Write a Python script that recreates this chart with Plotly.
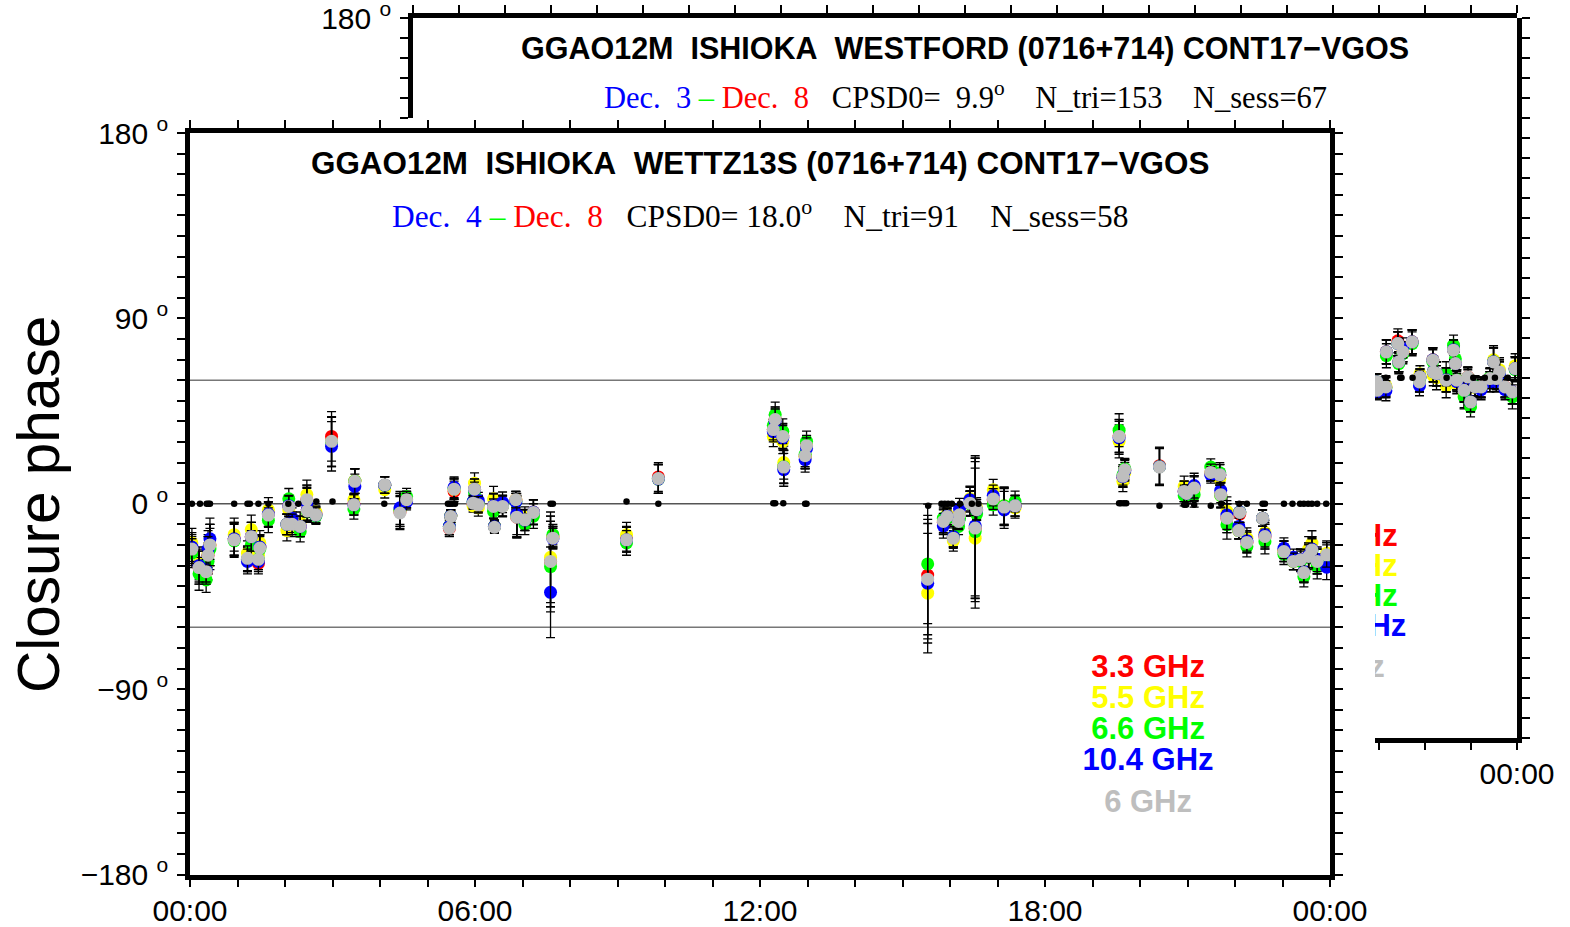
import plotly.graph_objects as go

W, H = 1570, 927

# ---------------- front panel (GGAO12M ISHIOKA WETTZ13S) ----------------
front_hours = [0.04, 0.19, 0.34, 0.38, 0.42, 0.93, 1.21, 1.29, 1.44, 1.47, 1.65, 2.04, 2.08, 2.15, 2.32,
               2.46, 2.47, 2.65, 2.98, 3.47, 3.45, 4.10, 4.42, 4.56, 5.46, 5.49, 5.56, 5.99, 5.96, 6.07,
               6.39, 6.41, 6.58, 6.86, 6.88, 7.05, 7.23, 7.64, 7.59, 9.19, 9.86, 12.32, 12.28, 12.48,
               12.50, 12.98, 12.95, 15.53, 15.86, 15.94, 16.07, 16.20, 16.18, 16.42, 16.56, 16.53,
               16.91, 17.14, 17.37, 19.56, 19.68, 19.64, 20.41, 20.93, 20.98, 21.14, 21.49, 21.68,
               21.70, 21.83, 22.10, 22.08, 22.25, 22.58, 22.63, 23.03, 23.23, 23.38, 23.45, 23.55,
               23.62, 23.73, 23.93]
front_gray = [-22, -31, -33, -25, -20, -17.5, -26.5, -16, -27, -21.5, -5.5, -10, -1.3, -10, -11,
              2, -3.5, -5.5, 30.3, 10.9, -0.5, 9.2, -4.5, 2, -11.8, -6.2, 7.1, 7.1, 0.3, -0.5,
              -1.3, -11.4, -1.3, 2, -6.5, -7.8, -4.2, -16.7, -28, -17.5, 12.2, 40.9, 36, 32.7,
              17.8, 28.2, 23.3, -36.6, -8.6, -6.2, -16.7, -5.4, -8.6, 0.3, -2.9, -11.8,
              2.3, -1.6, -1, 32.7, 16.5, 13.3, 17.8, 6, 5, 7.6, 15.2, 14.1,
              4.4, -7, -4.2, -13, -18.8, -7, -15.9, -23.2, -28, -27.2, -33.4, -25.6,
              -22.4, -28, -24.8]
front_red = [-23, -31, -33, -25, -20, -17, -27, -16, -29, -21, -5, -10, -1, -10, -11,
             2, -3, -5, 32.7, 11, 0, 9, -4, 2, -12, -6, 6, 7, 0, 0,
             -1, -11, -1, 2, -6.5, -8, -4, -16, -28, -17, 13, 41, 36, 33,
             18, 28, 23, -34.6, -9, -6, -16, -5, -8, 0, -3, -12,
             2, -1.5, -1, 33, 16.5, 13, 18.5, 6, 5, 7.6, 15, 14,
             4.4, -7, -5, -13, -18.8, -7, -16, -23, -28, -27, -33, -25,
             -22, -28, -25]
front_yellow = [-19, -29, -31, -24, -20, -15, -24, -12.5, -25, -19, -3, -13, -3, -11, -9,
                4.5, -4, -4, 30, 11, 2, 6.8, -3, 2, -11, -6, 7, 10, -1, -2,
                2.4, -11, -1, 2, -6, -6.5, -4, -16, -26, -15, 12, 40, 32.7, 30.3,
                20, 28, 23, -43.4, -8, -5, -18, -5, -8, 2.5, -2, -16.7,
                6.8, -1, -2, 30.3, 15, 10.9, 18, 8.4, 5, 7, 15, 12,
                4, -3.7, -4, -13, -16.7, -7, -14, -23, -28, -27, -33, -22,
                -19.1, -28, -24]
front_green = [-24, -34, -37, -28, -22, -18, -27, -20, -27, -22, -8, -10, 2.4, -9, -13.5,
               1, -4, -6, 30, 11, -2.5, 9, -3, 3.5, -11, -6, 7.5, 5.5, 1, 0,
               -3.7, -11, -1, 1, -6, -10, -6, -15, -30.5, -19, 12, 43.3, 38, 35.2,
               18, 30.3, 24, -29.2, -7, -7, -16, -7, -11, 0, -5, -13.5,
               -0.5, -1, 1.1, 35.7, 17, 14, 18, 4, 4, 4.4, 17.8, 15,
               4, -10.2, -4, -13, -20.8, -7, -18.3, -24.5, -28, -28, -35.4, -26,
               -23, -30.5, -26]
front_blue = [-21, -30, -32, -22, -17, -17, -28, -16, -28, -21, -5, -10, -1, -7, -11,
              0.5, -3, -5.5, 27.9, 8.4, -0.5, 9, -2, 1, -11, -6, 8, 7, 1, 1.5,
              -1, -11, 0.7, 1, -5, -8, -4, -17, -43, -17.5, 12, 40, 35, 32,
              16.5, 27, 21.4, -38.6, -10.7, -6, -16, -2.4, -8, 2, -3, -10.7,
              4, -3, -1, 32, 16, 13, 18, 6, 5, 8.8, 14, 14,
              6.5, -5.5, -4, -11, -18, -7, -15, -21.6, -26, -27, -33, -25,
              -22, -27, -30.8]
front_err = [7, 8, 6, 9, 10, 8, 6, 7, 5, 6, 6, 5, 5, 5, 5,
             7, 5, 4, 12, 6, 5, 4, 8, 4, 4, 3, 5, 5, 3, 4,
             6, 3, 5, 4, 10, 5, 6, 5, 22, 6, 7, 6, 5, 6,
             8, 5, 6, 29, 6, 4, 5, 5, 4, 6, 5, 34,
             5, 9, 5, 8, 5, 5, 9, 5, 4, 6, 4, 5,
             6, 7, 5, 4, 5, 4, 6, 5, 4, 5, 5, 6,
             6, 6, 6]
front_dot_hours = [0.04, 0.21, 0.35, 0.39, 0.42, 0.93, 1.21, 1.26, 1.44, 1.65, 2.07, 2.28, 2.66, 3.00,
                   4.09, 5.43, 5.47, 5.52, 5.58, 7.59, 7.64, 9.19, 9.86, 12.28, 12.32, 12.49, 12.95,
                   12.98, 15.54, 15.82, 15.89, 15.96, 16.04, 16.21, 16.46, 16.60, 19.56, 19.60,
                   19.66, 19.71, 20.41, 20.93, 20.97, 21.14, 21.49, 21.71, 22.09, 22.25, 22.58,
                   22.63, 23.03, 23.21, 23.37, 23.45, 23.54, 23.62, 23.73, 23.92]
front_dot_vals = [0, 0, 0, 0, 0, 0, 0, 0, 0, 0, 0, 0, 1.1, 1.1,
                  0, 0, 0, 0, 0, 0, 0, 1.1, 0, 0.3, 0.3, 0.3, 0,
                  0, -1, 0, 0, 0, 0, 0, 0, 0, 0.3, 0.3,
                  0.3, 0.3, -1, -0.5, -0.5, -0.5, -1, 0, 0, 0, 0,
                  0, 0, 0, 0, 0, 0, 0, 0, 0]

# ---------------- back panel (GGAO12M ISHIOKA WESTFORD), visible part ----------------
back_hours = [20.95, 20.96, 21.15, 21.16, 21.41, 21.43, 21.52, 21.72, 21.88, 21.89, 22.17, 22.18,
              22.25, 22.46, 22.62, 22.66, 22.69, 22.85, 22.93, 22.99, 23.09, 23.22, 23.41, 23.49,
              23.55, 23.62, 23.74, 23.90, 23.96]
back_gray = [-2, -6.3, -4.6, 12.9, 17.1, 7.9, 12.9, 17.9, -2.1, 0.4, 8.8, 2.9,
             2.1, -1.2, 13.8, 7.1, -1.2, -6.3, 0.4, -12.1, -4.6, -4.6, -0.4, 7.9,
             -0.4, 2.9, -4.6, -7.1, 4.6]
back_red = [-2, -6, -4.6, 13, 18.5, 8, 13, 18, -2, 0.4, 9, 3,
            2, -1, 14, 7, -1, -6, 0.4, -12, -4.6, -4.6, -0.4, 8,
            -0.4, 3, -4.6, -7, 4.6]
back_yellow = [-2, -6, -4, 13, 17, 8, 13, 18, -2, 2, 9, 1,
               0, -4, 14, 7, -3, -9, 0, -12, -5, -5, -2, 9,
               -2, 4, -5, -7, 6]
back_green = [-2, -6.5, -5, 11, 17, 7, 12, 17, -2, 0, 8, 3,
              2, 2, 16.3, 9.5, -1, -9.6, 0, -14.6, -4, -5, 0, 8,
              -1, 2, -5, -9.6, 4]
back_blue = [-2, -7, -6.5, 13, 17, 8, 15, 18, -4, 0.4, 9, 3,
             2, -1, 14, 7, -2, -6, -1, -12, -4.6, -6, -2, 8,
             -2, 2, -6, -7, 4.6]
back_err = [4, 4, 5, 6, 6, 5, 5, 6, 5, 4, 6, 5,
            6, 6, 5, 6, 5, 6, 5, 5, 5, 5, 5, 7,
            5, 6, 5, 6, 6]
back_dot_hours = [21.15, 21.46, 21.49, 21.73, 22.47, 23.05, 23.30, 23.52, 23.80]
back_dot_vals = [0, 0, 0, 0, 0, 0, 0, 0, 0]

# ---------------- legend / labels ----------------
legend_labels = ["3.3 GHz", "5.5 GHz", "6.6 GHz", "10.4 GHz", "6 GHz"]
legend_colors = ["#ff0000", "#ffff00", "#00ff00", "#0000ff", "#bebebe"]
legend_deg = [-80.3, -95.3, -110.3, -125.5, -146.0]
legend_hour = 20.17
ref_lines = [-60, 0, 60]

series_names = ["3.3 GHz", "5.5 GHz", "6.6 GHz", "10.4 GHz", "6 GHz"]
series_colors = ["#ff0000", "#ffff00", "#00ff00", "#0000ff", "#bebebe"]

x_ticks = list(range(0, 25))
x_ticktext = [("%02d:00" % (h % 24)) if h % 6 == 0 else "" for h in x_ticks]
y_ticks = list(range(-180, 181, 10))
y_major = {180: "180 <sup>o</sup>", 90: "90 <sup>o</sup>", 0: "0 <sup>o</sup>",
           -90: "\u221290 <sup>o</sup>", -180: "\u2212180 <sup>o</sup>"}
y_ticktext = [y_major.get(v, "") for v in y_ticks]

FONT = "Liberation Sans, Arial, Helvetica, sans-serif"
SERIF = "Liberation Serif, Times New Roman, serif"

fig = go.Figure()


def add_panel(xa, ya, hours, cols, err, dot_h, dot_v):
    for vals, c, nm in zip(cols, series_colors, series_names):
        fig.add_trace(go.Scatter(
            x=hours, y=vals, mode="markers", name=nm, xaxis=xa, yaxis=ya,
            marker=dict(color=c, size=13, line=dict(width=0)),
            error_y=dict(type="data", array=err, color="black", thickness=1.3, width=4.5),
            cliponaxis=True, showlegend=False, hoverinfo="skip"))
    fig.add_trace(go.Scatter(
        x=dot_h, y=dot_v, mode="markers", xaxis=xa, yaxis=ya,
        marker=dict(color="black", size=6.5), cliponaxis=True, showlegend=False, hoverinfo="skip"))
    fig.add_trace(go.Scatter(
        x=[legend_hour] * len(legend_labels), y=legend_deg, mode="text", xaxis=xa, yaxis=ya,
        text=["<b>%s</b>" % t for t in legend_labels],
        textfont=dict(family=FONT, size=31, color=legend_colors),
        textposition="middle center", cliponaxis=True, showlegend=False, hoverinfo="skip"))


add_panel("x", "y", front_hours,
          [front_red, front_yellow, front_green, front_blue, front_gray], front_err,
          front_dot_hours, front_dot_vals)
add_panel("x3", "y3", back_hours,
          [back_red, back_yellow, back_green, back_blue, back_gray], back_err,
          back_dot_hours, back_dot_vals)
# dummy trace so the top strip subplot exists
fig.add_trace(go.Scatter(x=[], y=[], xaxis="x2", yaxis="y2", showlegend=False))

for v in ref_lines:
    for xr, yr in (("x domain", "y"), ("x3 domain", "y3")):
        fig.add_shape(type="line", xref=xr, yref=yr, x0=0, x1=1, y0=v, y1=v,
                      line=dict(color="#555555" if v == 0 else "#777777", width=1.5), layer="below")


def px2x(p):
    return p / W


def px2y(p):
    return 1 - p / H


common_axis = dict(showgrid=False, zeroline=False, showline=True, linecolor="black", linewidth=4.5,
                   ticks="outside", ticklen=8, tickwidth=1.5, tickcolor="black", automargin=False,
                   ticklabeloverflow="allow",
                   tickfont=dict(family=FONT, size=30, color="black"), fixedrange=True)

fig.update_layout(
    width=W, height=H, margin=dict(l=0, r=0, t=0, b=0, pad=0, autoexpand=False),
    paper_bgcolor="white", plot_bgcolor="white", showlegend=False,
    xaxis=dict(domain=[px2x(190), px2x(1330)], range=[0, 24], anchor="y",
               tickvals=x_ticks, ticktext=x_ticktext, mirror="ticks", ticklabelstandoff=-2, **common_axis),
    yaxis=dict(domain=[px2y(874.5), px2y(133)], range=[-180, 180], anchor="x",
               tickvals=y_ticks, ticktext=y_ticktext, mirror="ticks", ticklabelstandoff=3, **common_axis),
    xaxis2=dict(domain=[px2x(413), px2x(1517)], range=[0, 24], anchor="y2", side="top",
                tickvals=x_ticks, showticklabels=False, **common_axis),
    yaxis2=dict(domain=[px2y(117.9), px2y(18)], range=[130, 180], anchor="x2", side="left",
                tickvals=list(range(130, 181, 10)),
                ticktext=["" if v != 180 else "180 <sup>o</sup>" for v in range(130, 181, 10)],
                ticklabelstandoff=3, **common_axis),
    xaxis3=dict(domain=[px2x(1375), px2x(1517)], range=[20.913, 24], anchor="y3",
                tickvals=[21, 22, 23, 24], ticktext=["", "", "", "00:00"], ticklabelstandoff=-2,
                **common_axis),
    yaxis3=dict(domain=[px2y(737.5), px2y(18)], range=[-180, 180], anchor="x3", side="right",
                tickvals=y_ticks, showticklabels=False, **common_axis),
)

ann = []
ann.append(dict(text="<b>GGAO12M\u00a0 ISHIOKA\u00a0 WESTFORD (0716+714) CONT17\u2212VGOS</b>",
                x=px2x(965), y=px2y(48), xref="paper", yref="paper", showarrow=False,
                font=dict(family=FONT, size=30.5, color="black"), xanchor="center", yanchor="middle"))
ann.append(dict(text='<span style="color:#0000ff">Dec.\u00a0 3</span> <span style="color:#00ff00">\u2013</span> '
                     '<span style="color:#ff0000">Dec.\u00a0 8</span>\u00a0\u00a0 CPSD0=\u00a0 9.9<sup>o</sup>'
                     '\u00a0\u00a0\u00a0 N_tri=153\u00a0\u00a0\u00a0 N_sess=67',
                x=px2x(965), y=px2y(96), xref="paper", yref="paper", showarrow=False,
                font=dict(family=SERIF, size=30.5, color="black"), xanchor="center", yanchor="middle"))
ann.append(dict(text="<b>GGAO12M\u00a0 ISHIOKA\u00a0 WETTZ13S (0716+714) CONT17\u2212VGOS</b>",
                x=px2x(760), y=px2y(164), xref="paper", yref="paper", showarrow=False,
                font=dict(family=FONT, size=31.4, color="black"), xanchor="center", yanchor="middle"))
ann.append(dict(text='<span style="color:#0000ff">Dec.\u00a0 4</span> <span style="color:#00ff00">\u2013</span> '
                     '<span style="color:#ff0000">Dec.\u00a0 8</span>\u00a0\u00a0 CPSD0= 18.0<sup>o</sup>'
                     '\u00a0\u00a0\u00a0 N_tri=91\u00a0\u00a0\u00a0 N_sess=58',
                x=px2x(760), y=px2y(214), xref="paper", yref="paper", showarrow=False,
                font=dict(family=SERIF, size=31.4, color="black"), xanchor="center", yanchor="middle"))
ann.append(dict(text="Closure phase", x=px2x(38), y=px2y(505), xref="paper", yref="paper",
                showarrow=False, textangle=-90, font=dict(family=FONT, size=58.5, color="black"),
                xanchor="center", yanchor="middle"))
fig.update_layout(annotations=ann)

fig.write_html("out.html", config={"displayModeBar": False},
               post_script="document.body.style.margin='0px';document.body.style.overflow='hidden';")
